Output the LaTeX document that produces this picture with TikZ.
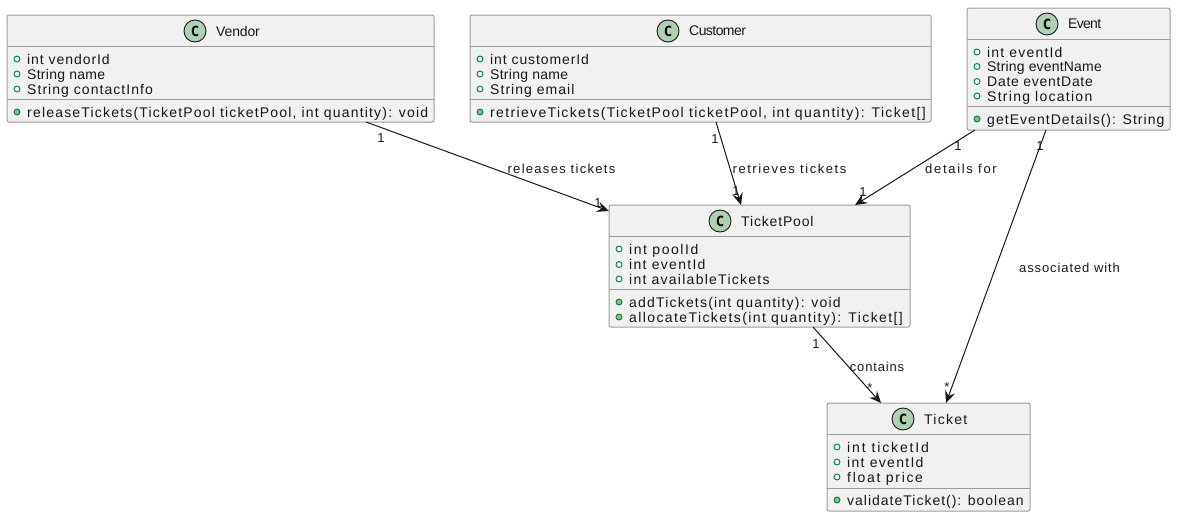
\documentclass[tikz,border=0pt]{standalone}
\usepackage{fontspec}
\setmainfont{Liberation Sans}
\newfontfamily\spotfont[Scale=1]{DejaVu Sans Mono Bold}
\usetikzlibrary{arrows.meta}
\definecolor{boxfill}{HTML}{F1F1F1}
\definecolor{boxline}{HTML}{9C9C9C}
\definecolor{spotfill}{HTML}{ADD1B2}
\definecolor{iconline}{HTML}{038048}
\definecolor{iconfill}{HTML}{84BE84}
\definecolor{ink}{HTML}{181818}
\tikzset{
  x=1pt,y=-1pt,
  classbox/.style={draw=boxline,fill=boxfill,line width=1pt,rounded corners=2pt,inner sep=0pt,outer sep=0pt,anchor=north west},
  spot/.style={circle,draw=ink,fill=spotfill,line width=.9pt,minimum size=22pt,inner sep=0pt,font=\spotfont\fontsize{14}{14}\selectfont,text=black},
  title/.style={anchor=west,inner sep=0pt,text=ink,font=\fontsize{14}{16}\selectfont},
  member/.style={anchor=base west,inner sep=0pt,text=ink,font=\fontsize{14}{16}\selectfont},
  fieldicon/.style={circle,draw=iconline,fill=none,line width=.9pt,minimum size=6pt,inner sep=0pt},
  methodicon/.style={circle,draw=iconline,fill=iconfill,line width=.9pt,minimum size=6pt,inner sep=0pt},
  sepline/.style={draw=boxline,line width=1pt},
  conn/.style={draw=ink,line width=1pt,-{Stealth[length=12pt,width=10.5pt,inset=4.5pt]}},
  linklabel/.style={inner sep=0pt,text=ink,font=\fontsize{13}{14}\selectfont},
  mult/.style={inner sep=0pt,text=ink,font=\fontsize{13}{14}\selectfont}
}
\newcommand{\ls}[1]{\addfontfeature{LetterSpace=#1}}
\newcommand{\fld}[5]{\node[fieldicon] (#1i) at (#2+10,#3) {};\node[member] (#1) at (#2+20,#3+5) {\ls{#4}#5};}
\newcommand{\mth}[5]{\node[methodicon] (#1i) at (#2+10,#3) {};\node[member] (#1) at (#2+20,#3+5) {\ls{#4}#5};}
\newcommand{\umlclass}[9]{%
  \node[classbox,minimum width=#4 pt,minimum height=#5 pt] (#1) at (#2,#3) {};
  \draw[sepline] (#2,#6) -- (#2+#4,#6);
  \draw[sepline] (#2,#7) -- (#2+#4,#7);
  \node[spot] (#1spot) at (#8,#3+16) {C};
  \node[title] (#1title) at (#8+21,#3+16) {#9};
}
\begin{document}
\begin{tikzpicture}
\useasboundingbox (0,0) rectangle (1177,517);
\umlclass{vendor}{7}{15}{427}{107}{46.5}{99}{195}{\ls{-1}Vendor}
\fld{va}{7}{59}{6.7}{int vendorId}
\fld{vb}{7}{74}{2}{String name}
\fld{vc}{7}{89}{7.5}{String contactInfo}
\mth{vd}{7}{112}{8.5}{releaseTickets(TicketPool ticketPool, int quantity): void}

\umlclass{customer}{470}{15}{461}{107}{46.5}{99}{668}{\ls{-4}Customer}
\fld{ca}{470}{59}{6.5}{int customerId}
\fld{cb}{470}{74}{2}{String name}
\fld{cc}{470}{89}{7.4}{String email}
\mth{cd}{470}{112}{9.6}{retrieveTickets(TicketPool ticketPool, int quantity): Ticket[]}

\umlclass{event}{967}{8}{203}{122}{39.5}{106}{1047}{\ls{-5}Event}
\fld{ea}{967}{52}{8.5}{int eventId}
\fld{eb}{967}{66.5}{1.3}{String eventName}
\fld{ec}{967}{81.5}{5}{Date eventDate}
\fld{ed}{967}{96}{9}{String location}
\mth{ee}{967}{119}{7.4}{getEventDetails(): String}

\umlclass{pool}{609}{205}{301}{122}{236.5}{289}{720}{\ls{6}TicketPool}
\fld{pa}{609}{249}{11}{int poolId}
\fld{pb}{609}{264.5}{9.3}{int eventId}
\fld{pc}{609}{279}{9}{int availableTickets}
\mth{pd}{609}{302}{8.5}{addTickets(int quantity): void}
\mth{pe}{609}{317}{10}{allocateTickets(int quantity): Ticket[]}

\umlclass{ticket}{827}{403}{203}{108}{434.5}{488}{903}{\ls{9}Ticket}
\fld{ta}{827}{447}{13.4}{int ticketId}
\fld{tb}{827}{462}{9.3}{int eventId}
\fld{tc}{827}{477}{12}{float price}
\mth{td}{827}{500}{7.1}{validateTicket(): boolean}

\draw[conn] ([xshift=359pt]vendor.south west) -- ([yshift=-6pt]pool.north west);
\draw[conn] ([xshift=246pt]customer.south west) -- ([xshift=132pt]pool.north west);
\draw[conn] ([xshift=8pt]event.south west) -- ([xshift=246pt]pool.north west);
\draw[conn] ([xshift=79pt]event.south west) -- ([xshift=119pt]ticket.north west);
\draw[conn] ([xshift=204pt]pool.south west) -- ([xshift=54pt]ticket.north west);

\node[linklabel] (l1) at (561.5,169) {\ls{10}releases tickets};
\node[linklabel] (l2) at (789.5,169) {\ls{12}retrieves tickets};
\node[linklabel] (l3) at (961,169) {\ls{13}details for};
\node[linklabel] (l4) at (1069.5,268) {\ls{7}associated with};
\node[linklabel] (l5) at (877,367) {\ls{6.5}contains};
\node[mult] (m1) at (381,138) {1};
\node[mult] (m2) at (598,203) {1};
\node[mult] (m3) at (715,139) {1};
\node[mult] (m4) at (736,191) {1};
\node[mult] (m5) at (958,146) {1};
\node[mult] (m6) at (863,192) {1};
\node[mult] (m7) at (1040,146) {1};
\node[mult] (m8) at (947,387) {*};
\node[mult] (m9) at (816,344) {1};
\node[mult] (m10) at (870,388) {*};
\end{tikzpicture}
\end{document}
